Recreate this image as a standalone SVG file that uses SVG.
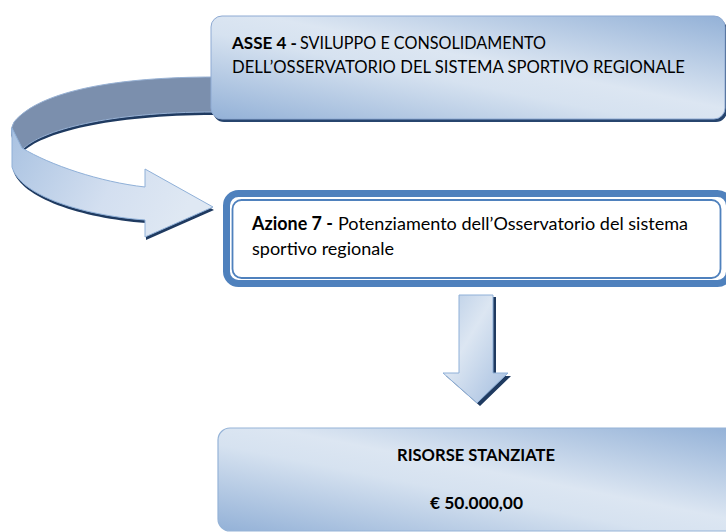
<svg xmlns="http://www.w3.org/2000/svg" width="726" height="532" viewBox="0 0 726 532">
  <defs>
    <linearGradient id="boxGrad" x1="0" y1="1" x2="1" y2="0">
      <stop offset="0" stop-color="#93b1d7"/>
      <stop offset="0.42" stop-color="#d6e2f0"/>
      <stop offset="0.55" stop-color="#dce6f2"/>
      <stop offset="1" stop-color="#93b1d7"/>
    </linearGradient>
    <linearGradient id="ribbonGrad" x1="0" y1="0" x2="1" y2="0.3">
      <stop offset="0" stop-color="#a9c2e1"/>
      <stop offset="0.6" stop-color="#d3dff0"/>
      <stop offset="1" stop-color="#dfe8f3"/>
    </linearGradient>
    <linearGradient id="downGrad" x1="0" y1="0" x2="1" y2="1">
      <stop offset="0" stop-color="#b9cde6"/>
      <stop offset="0.4" stop-color="#dce6f2"/>
      <stop offset="1" stop-color="#a3bddf"/>
    </linearGradient>
    <style>
      .t { font-family: Lato, "Open Sans", "Liberation Sans", sans-serif; fill: #000; }
      .s17 { font-size: 17px; }
      .s18 { font-size: 18px; }
      .b { font-weight: bold; }
      .shadow { fill: #1f3a60; }
      .edge { stroke: #8fb0d8; stroke-width: 1; }
    </style>
  </defs>

  <g id="connectors">
    <g id="curved-arrow">
      <path class="shadow" d="M 214,80 C 120,80 40,93 14,125 Q 10,131 12,138 L 22,153 C 40,133 110,115 214,115 Z"/>
      <path class="shadow" d="M 13,131 L 23,151 C 51,168 101,185 146,190 L 146,172 L 214,210 L 146,240 L 146,223 C 81,218 21,198 13,170 Z"/>
      <path d="M 214,77 C 120,77 40,90 14,122 Q 10,128 12,135 L 22,150 C 40,130 110,112 214,112 Z" fill="#7b8fad" stroke="#97b1d4" stroke-width="1"/>
      <path class="edge" fill="url(#ribbonGrad)" d="M 12,128 L 22,148 C 50,165 100,182 145,187 L 145,169 L 213,207 L 145,237 L 145,220 C 80,215 20,195 12,167 Z"/>
    </g>
    <g id="down-arrow">
      <path class="shadow" d="M 462,297 L 496,297 L 496,376 L 511,376 L 480,406 L 446,376 L 462,376 Z"/>
      <path class="edge" fill="url(#downGrad)" d="M 459,295 L 493,295 L 493,373 L 508,373 L 477,403 L 443,373 L 459,373 Z"/>
    </g>
  </g>

  <g id="node-asse">
    <rect x="213" y="19" width="514" height="103" rx="11" fill="#27456e"/>
    <rect x="211" y="16" width="514" height="103" rx="11" fill="url(#boxGrad)" stroke="#8eaad3" stroke-width="1"/>
    <text class="t s17" y="49"><tspan class="b" x="232" textLength="65" lengthAdjust="spacingAndGlyphs">ASSE 4 -</tspan><tspan x="300" textLength="246" lengthAdjust="spacingAndGlyphs">SVILUPPO E CONSOLIDAMENTO</tspan></text>
    <text class="t s17" x="232" y="73" textLength="453" lengthAdjust="spacingAndGlyphs">DELL’OSSERVATORIO DEL SISTEMA SPORTIVO REGIONALE</text>
  </g>

  <g id="node-azione">
    <rect x="226.5" y="193.5" width="503" height="90" rx="12" fill="#ffffff" stroke="#4f81bd" stroke-width="7"/>
    <rect x="232.5" y="200" width="488" height="78" rx="9" fill="none" stroke="#4f81bd" stroke-width="1.8"/>
    <text class="t s18" y="230"><tspan class="b" x="252" textLength="81" lengthAdjust="spacingAndGlyphs">Azione 7 -</tspan><tspan x="338" textLength="350" lengthAdjust="spacingAndGlyphs">Potenziamento dell’Osservatorio del sistema</tspan></text>
    <text class="t s18" x="252" y="255" textLength="142" lengthAdjust="spacingAndGlyphs">sportivo regionale</text>
  </g>

  <g id="node-risorse">
    <rect x="218" y="428" width="520" height="103" rx="12" fill="url(#boxGrad)" stroke="#95b3d7" stroke-width="1.2"/>
    <text class="t s17 b" x="397" y="461" textLength="158" lengthAdjust="spacingAndGlyphs">RISORSE STANZIATE</text>
    <text class="t s17 b" x="430" y="509" textLength="93" lengthAdjust="spacingAndGlyphs">€ 50.000,00</text>
  </g>
</svg>
